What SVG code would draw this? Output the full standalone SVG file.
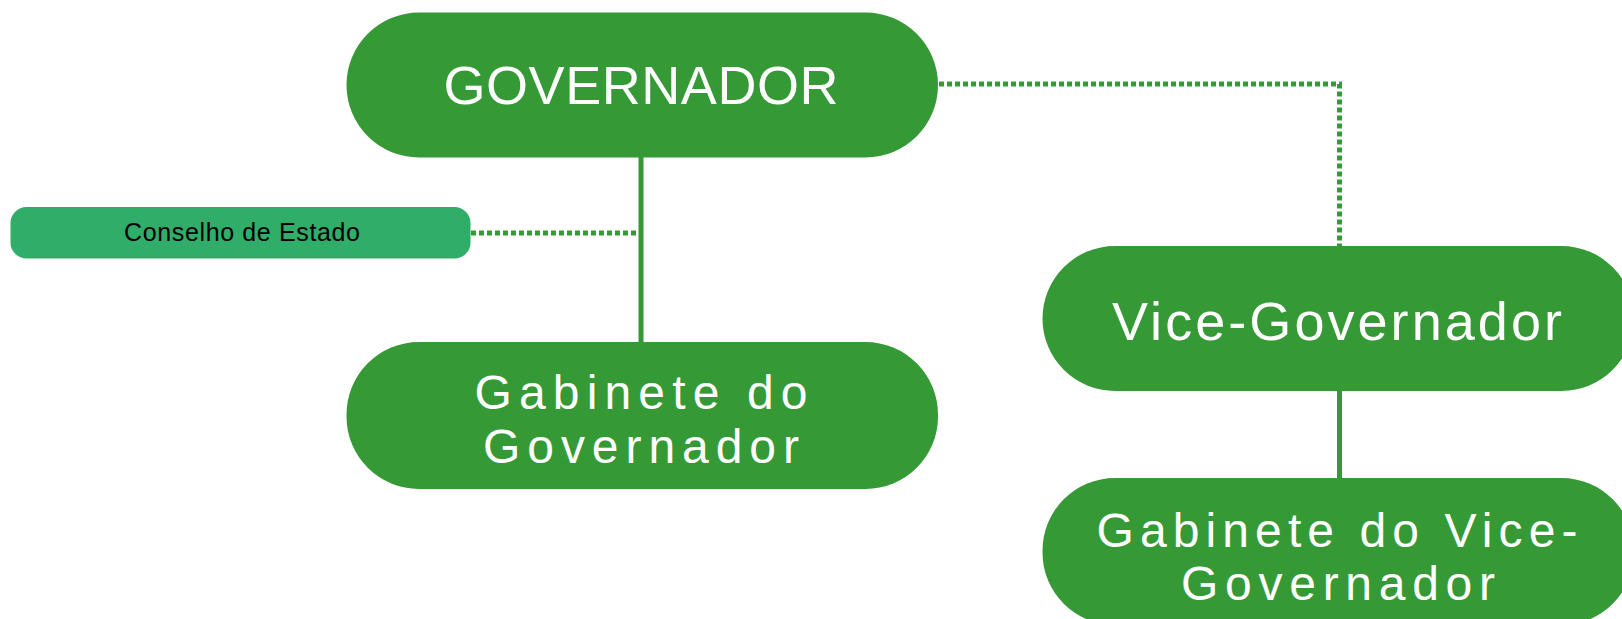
<svg xmlns="http://www.w3.org/2000/svg" width="1622" height="619" viewBox="0 0 1622 619">
<style>
.node{fill:#359a35}
.light{fill:#30ad69}
.t{font-family:"Liberation Sans",Arial,sans-serif;fill:#fff;font-size:54px;text-anchor:middle}
.t2{font-family:"Liberation Sans",Arial,sans-serif;fill:#fff;font-size:48px;text-anchor:middle}
.s{font-family:"Liberation Sans",Arial,sans-serif;fill:#000;font-size:25px;text-anchor:middle}
.solid{stroke:#359a35;stroke-width:5;fill:none}
.dot{stroke:#359a35;stroke-width:5;fill:none;stroke-dasharray:5 3}
</style>
<rect width="1622" height="619" fill="#fff"/>
<g id="connectors">
<line class="solid" x1="641" y1="157" x2="641" y2="342"/>
<line class="dot" x1="471" y1="233" x2="639" y2="233"/>
<polyline class="dot" points="939,84 1339.5,84 1339.5,246"/>
<line class="solid" x1="1339.5" y1="391" x2="1339.5" y2="478"/>
</g>
<g id="governador">
<rect class="node" x="346.5" y="12.5" width="591.5" height="145" rx="72.5"/>
<text class="t" x="641" y="104" textLength="395">GOVERNADOR</text>
</g>
<g id="conselho">
<rect class="light" x="10.5" y="207" width="460" height="51.5" rx="16"/>
<text class="s" x="242" y="241" textLength="236">Conselho de Estado</text>
</g>
<g id="gabinete-governador">
<rect class="node" x="346.5" y="342" width="591.5" height="147" rx="72.5"/>
<text class="t2" x="641" y="409" textLength="333">Gabinete do</text>
<text class="t2" x="641" y="463" textLength="316">Governador</text>
</g>
<g id="vice-governador">
<rect class="node" x="1042.5" y="246" width="591.5" height="145" rx="72.5"/>
<text class="t" x="1337" y="340" textLength="450">Vice-Governador</text>
</g>
<g id="gabinete-vice">
<rect class="node" x="1042.5" y="478" width="591.5" height="147" rx="72.5"/>
<text class="t2" x="1337" y="547" textLength="481">Gabinete do Vice-</text>
<text class="t2" x="1338" y="600" textLength="314">Governador</text>
</g>
</svg>
